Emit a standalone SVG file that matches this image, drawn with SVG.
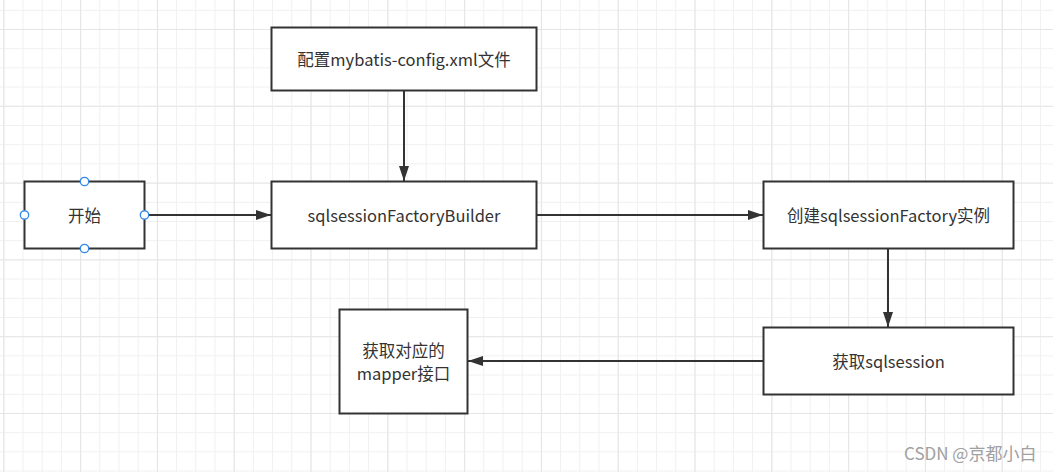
<svg xmlns="http://www.w3.org/2000/svg" width="1053" height="472" viewBox="0 0 1053 472">
<style>
.box{fill:#ffffff;stroke:#333333;stroke-width:2}
.t{font-family:"Noto Sans CJK SC","Microsoft YaHei",sans-serif;font-size:16.5px;fill:#333333;text-anchor:middle;dominant-baseline:central}
.edge{fill:none;stroke:#333333;stroke-width:2}
.handle{fill:#ffffff;stroke:#2f88ea;stroke-width:1.3}
.wm{font-family:"Noto Sans CJK SC",sans-serif;font-size:17px;fill:#a0a0a0}
</style>
<defs>
<pattern id="minor" x="3.3" y="9.8" width="19.2" height="19.2" patternUnits="userSpaceOnUse">
<path d="M0 0.5H19.2M0.5 0V19.2" stroke="#f0f0f0" stroke-width="1" fill="none"/>
</pattern>
<pattern id="major" x="3.3" y="29" width="76.8" height="76.8" patternUnits="userSpaceOnUse">
<path d="M0 0.5H76.8M0.5 0V76.8" stroke="#e5e5e5" stroke-width="1.2" fill="none"/>
</pattern>
<marker id="arr" markerWidth="15" markerHeight="10" refX="15" refY="5" orient="auto" markerUnits="userSpaceOnUse">
<path d="M0 0L15 5L0 10z" fill="#333333"/>
</marker>
</defs>
<rect width="1053" height="472" fill="#ffffff"/>
<rect width="1053" height="472" fill="url(#minor)"/>
<rect width="1053" height="472" fill="url(#major)"/>

<g id="connectors">
<path class="edge" d="M404 90V181" marker-end="url(#arr)"/>
<path class="edge" d="M145 215H271" marker-end="url(#arr)"/>
<path class="edge" d="M537 215H763" marker-end="url(#arr)"/>
<path class="edge" d="M888 248V327" marker-end="url(#arr)"/>
<path class="edge" d="M763 361H468" marker-end="url(#arr)"/>
</g>

<g id="node-start">
<rect class="box" x="24.5" y="181.5" width="120" height="67"/>
<text class="t" x="84.5" y="215">开始</text>
<circle class="handle" cx="84.5" cy="181.5" r="4.2"/>
<circle class="handle" cx="84.5" cy="248.5" r="4.2"/>
<circle class="handle" cx="24.5" cy="215" r="4.2"/>
<circle class="handle" cx="144.5" cy="215" r="4.2"/>
</g>

<g id="node-config">
<rect class="box" x="271.5" y="27.5" width="265" height="63"/>
<text class="t" x="404" y="59">配置mybatis-config.xml文件</text>
</g>

<g id="node-builder">
<rect class="box" x="271.5" y="181.5" width="265" height="67"/>
<text class="t" x="404" y="215">sqlsessionFactoryBuilder</text>
</g>

<g id="node-factory">
<rect class="box" x="763.5" y="181.5" width="250" height="67"/>
<text class="t" x="888.5" y="215">创建sqlsessionFactory实例</text>
</g>

<g id="node-session">
<rect class="box" x="763.5" y="327.5" width="250" height="67"/>
<text class="t" x="888.5" y="361">获取sqlsession</text>
</g>

<g id="node-mapper">
<rect class="box" x="339.5" y="309.5" width="128" height="104"/>
<text class="t" x="403.5" y="350">获取对应的</text>
<text class="t" x="403.5" y="373">mapper接口</text>
</g>

<text class="wm" x="904" y="460">CSDN @京都小白</text>
</svg>
